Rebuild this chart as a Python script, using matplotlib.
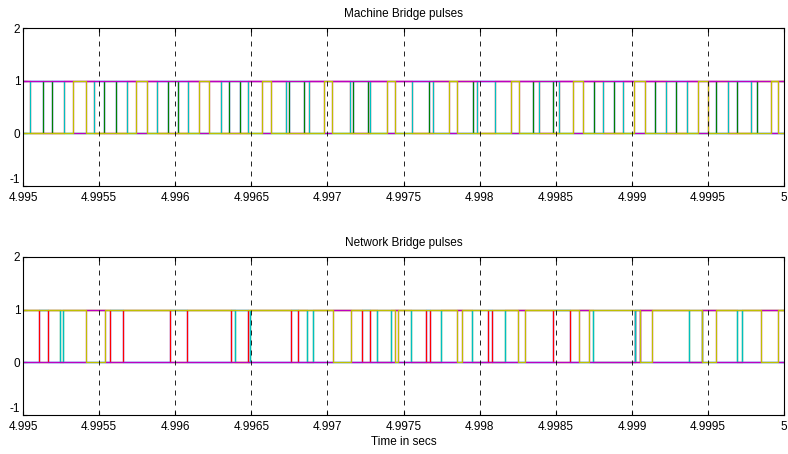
import numpy as np
import matplotlib
matplotlib.use("Agg")
import matplotlib.pyplot as plt

plt.rcParams["font.family"] = ["Liberation Sans", "DejaVu Sans"]
plt.rcParams["axes.unicode_minus"] = False

T_START = 4.995
T_END = 5.0

# switching instants, microseconds after 4.995 s
# machine bridge: three legs, each drawn as upper switch + complementary lower switch
machine_leg_bg = [131, 191, 532, 611, 953, 1018, 1353, 1426, 1748, 1846, 2168, 2267,
                  2667, 2957, 3351, 3482, 3751, 3883, 4152, 4290, 4553, 4691, 4822]
machine_leg_rc = [46, 269, 466, 683, 880, 1084, 1301, 1478, 1728, 1879, 2148, 2280,
                  2556, 2694, 2983, 3101, 3390, 3522, 3811, 3942, 4225, 4362, 4632, 4783]
machine_leg_my = [328, 414, 742, 815, 1156, 1222, 1570, 1629, 1978, 2030, 2391, 2444,
                  2799, 2851, 3206, 3259, 3613, 3679, 4014, 4087, 4435, 4500, 4914, 4960]

# network bridge
network_leg_br = [105, 164, 572, 657, 966, 1077, 1367, 1478, 1761, 1807, 2227, 2280,
                  2648, 2674, 3055, 3081, 3482, 3594, 4021, 4054]
network_leg_gc = [243, 263, 1393, 1491, 1866, 1905, 2326, 2418, 2549, 2746,
                  2950, 3167, 3745, 4021, 4375, 4461, 4690, 4720]
network_leg_ym = [414, 539, 2037, 2155, 2444, 2464, 2851, 2884, 3252, 3298,
                  3653, 3719, 4054, 4133, 4461, 4553, 4849, 4960]

x_ticks = [4.995, 4.9955, 4.996, 4.9965, 4.997, 4.9975, 4.998, 4.9985, 4.999, 4.9995, 5.0]
x_tick_labels = ["4.995", "4.9955", "4.996", "4.9965", "4.997", "4.9975",
                 "4.998", "4.9985", "4.999", "4.9995", "5"]
y_ticks = [-1, 0, 1, 2]

# MATLAB classic line colours
C = {"b": (0, 0, 1), "g": (0, 0.5, 0), "r": (1, 0, 0),
     "c": (0, 0.75, 0.75), "m": (0.75, 0, 0.75), "y": (0.75, 0.75, 0)}


def pulse(edges_us, start_level):
    t = [T_START] + [T_START + e * 1e-6 for e in edges_us] + [T_END]
    lv = [(start_level + i) % 2 for i in range(len(edges_us) + 1)]
    lv.append(lv[-1])
    return np.array(t), np.array(lv)


def draw(ax, legs, title):
    # legs: list of (edges, colour_upper, colour_lower, upper_start)
    curves = []
    for edges, cu, cl, s0 in legs:
        curves.append((pulse(edges, s0), cu))
        curves.append((pulse(edges, 1 - s0), cl))
    order = ["b", "g", "r", "c", "m", "y"]
    curves.sort(key=lambda c: order.index(c[1]))
    for (t, lv), col in curves:
        ax.step(t, lv, where="post", color=C[col], lw=0.9)
    ax.set_xlim(T_START, T_END)
    ax.set_ylim(-1, 2)
    ax.set_yticks(y_ticks)
    ax.set_xticks(x_ticks)
    ax.set_xticklabels(x_tick_labels)
    for xv in x_ticks[1:-1]:
        ax.axvline(xv, color="black", lw=0.6, ls=(0, (6, 6)))
    ax.tick_params(direction="in", labelsize=8.5, length=3, top=True, right=True)
    ax.tick_params(axis="x", pad=4.5)
    ax.tick_params(axis="y", pad=2)
    # the -1 label sits just above the axis corner, as in the source
    ax.get_yticklabels()[0].set_verticalalignment("bottom")
    ax.set_title(title, fontsize=8.5, pad=8)
    for sp in ax.spines.values():
        sp.set_linewidth(0.8)


fig = plt.figure(figsize=(7.88, 4.54), dpi=100)
ax1 = fig.add_axes([0.0292, 0.590, 0.966, 0.348])
ax2 = fig.add_axes([0.0292, 0.086, 0.966, 0.348])

draw(ax1, [(machine_leg_bg, "b", "g", 1),
           (machine_leg_rc, "r", "c", 1),
           (machine_leg_my, "m", "y", 1)], "Machine Bridge pulses")
draw(ax2, [(network_leg_br, "r", "b", 1),
           (network_leg_gc, "g", "c", 1),
           (network_leg_ym, "y", "m", 1)], "Network Bridge pulses")
ax2.set_xlabel("Time in secs", fontsize=8.5, labelpad=2)

fig.savefig("out.png", dpi=100)
